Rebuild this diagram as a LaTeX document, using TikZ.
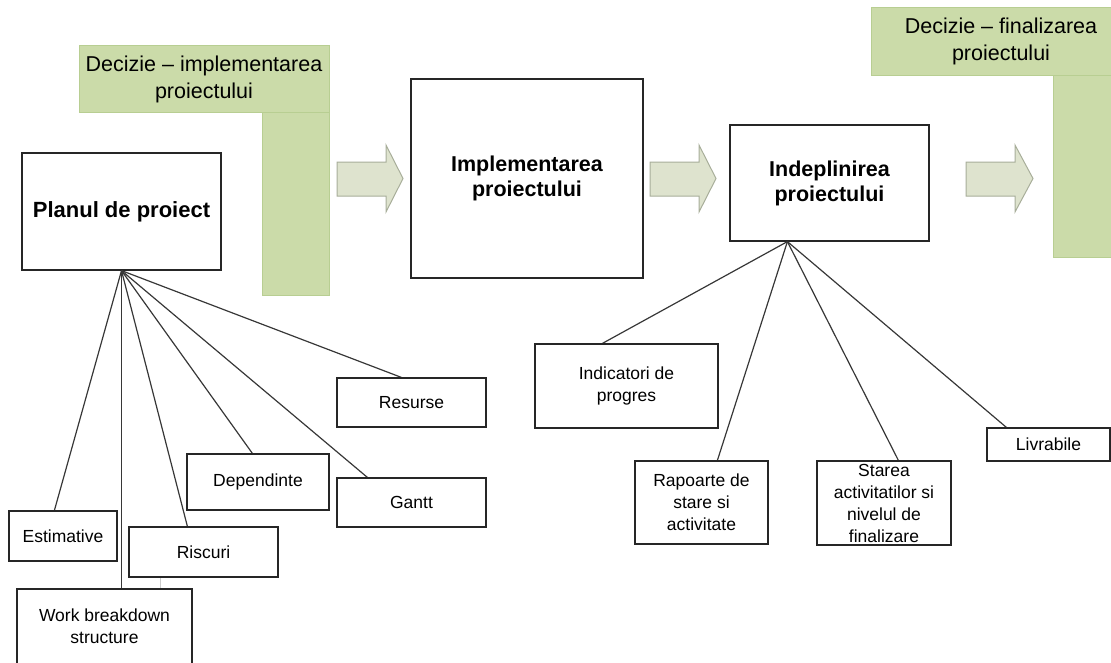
\documentclass[tikz,border=0pt]{standalone}
\usepackage{fontspec}
\setmainfont{Liberation Sans}
\definecolor{greenfill}{RGB}{203,219,169}
\definecolor{greenedge}{RGB}{184,206,146}
\definecolor{arrowfill}{RGB}{222,227,206}
\definecolor{arrowedge}{RGB}{168,174,154}
\definecolor{linecol}{RGB}{55,55,55}
\begin{document}
\begin{tikzpicture}[x=1pt,y=-1pt,
  box/.style={draw=black!85, line width=1.2pt, fill=white, inner sep=0pt, align=center,
    font=\fontsize{17.5}{22}\selectfont},
  bigbox/.style={box, font=\fontsize{21.5}{25}\selectfont\bfseries},
  greenbar/.style={fill=greenfill, draw=greenedge, line width=1pt},
  greentext/.style={inner sep=0pt, align=center, font=\fontsize{21.5}{27}\selectfont},
  blockarrow/.style={fill=arrowfill, draw=arrowedge, line width=1pt},
  conn/.style={draw=linecol, line width=1.2pt},
  faint/.style={draw=black!20, line width=1.2pt}]
\useasboundingbox (0,0) rectangle (1111,662);
\clip (0,0) rectangle (1111,662);

% green L shapes
\fill[greenbar] (262,112) rectangle (329,295);
\fill[greenbar] (79,45) rectangle (329,112);
\node[greentext] (dec1) at (204,79) {Decizie -- implementarea\\proiectului};
\fill[greenbar] (1053,75) rectangle (1125,257);
\fill[greenbar] (871,7) rectangle (1125,75);
\node[greentext] (dec2) at (1001,41) {Decizie -- finalizarea\\proiectului};

% block arrows
\draw[blockarrow] (337,162) -- (386,162) -- (386,145) -- (403,178.5) -- (386,212) -- (386,196) -- (337,196) -- cycle;
\draw[blockarrow] (650,162) -- (699,162) -- (699,145) -- (716,178.5) -- (699,212) -- (699,196) -- (650,196) -- cycle;
\draw[blockarrow] (966,162) -- (1015,162) -- (1015,145) -- (1033,178.5) -- (1015,212) -- (1015,196) -- (966,196) -- cycle;

% main boxes
\node[bigbox, font=\fontsize{22}{25}\selectfont\bfseries, minimum width=199pt, minimum height=117pt] (plan) at (121.5,211.5) {Planul de proiect};
\node[bigbox, minimum width=232pt, minimum height=199pt] (impl) at (527,178.5) {Implementarea\\proiectului};
\node[bigbox, minimum width=199pt, minimum height=116pt] (indep) at (829.5,183) {Indeplinirea\\proiectului};

% plan children
\node[box, minimum width=149pt, minimum height=49pt] (res) at (411.5,402.5) {Resurse};
\node[box, minimum width=149pt, minimum height=49pt] (gantt) at (411.5,502.5) {Gantt};
\node[box, minimum width=142pt, minimum height=56pt] (dep) at (258,482) {Dependinte};
\node[box, minimum width=149pt, minimum height=50pt] (ris) at (203.5,552) {Riscuri};
\node[box, minimum width=108pt, minimum height=50pt] (est) at (63,536) {Estimative};
\node[box, minimum width=175pt, minimum height=75pt] (wbs) at (104.5,626.5) {Work breakdown\\structure};

% indeplinirea children
\node[box, minimum width=183pt, minimum height=84pt] (ind) at (626.5,386) {Indicatori de\\progres};
\node[box, minimum width=133pt, minimum height=83pt] (rap) at (701.5,502.5) {Rapoarte de\\stare si\\activitate};
\node[box, minimum width=134pt, minimum height=84pt] (sta) at (884,503) {Starea\\activitatilor si\\nivelul de\\finalizare};
\node[box, minimum width=123pt, minimum height=33pt] (liv) at (1048.5,444.5) {Livrabile};

% connectors from plan
\coordinate (pb) at (plan.south);
\draw[conn] (pb) -- ([xshift=65pt]res.north west);
\draw[conn] (pb) -- ([xshift=31pt]gantt.north west);
\draw[conn] (pb) -- ([xshift=66pt]dep.north west);
\draw[conn] (pb) -- ([xshift=59pt]ris.north west);
\draw[conn] (pb) -- ([xshift=46pt]est.north west);
\draw[conn] (pb) -- (pb |- wbs.north);
\draw[faint] ([xshift=32pt]ris.south west) -- ([xshift=32pt]ris.south west |- wbs.north);

% connectors from indeplinirea
\coordinate (ib) at ([xshift=58pt]indep.south west);
\draw[conn] (ib) -- ([xshift=68pt]ind.north west);
\draw[conn] (ib) -- ([xshift=83pt]rap.north west);
\draw[conn] (ib) -- ([xshift=82pt]sta.north west);
\draw[conn] (ib) -- ([xshift=20pt]liv.north west);

% redraw box borders over connector ends
\foreach \n in {res,gantt,dep,ris,est,wbs,ind,rap,sta,liv}{
  \draw[draw=black!85, line width=1.2pt] (\n.north west) rectangle (\n.south east);
}
\end{tikzpicture}
\end{document}
